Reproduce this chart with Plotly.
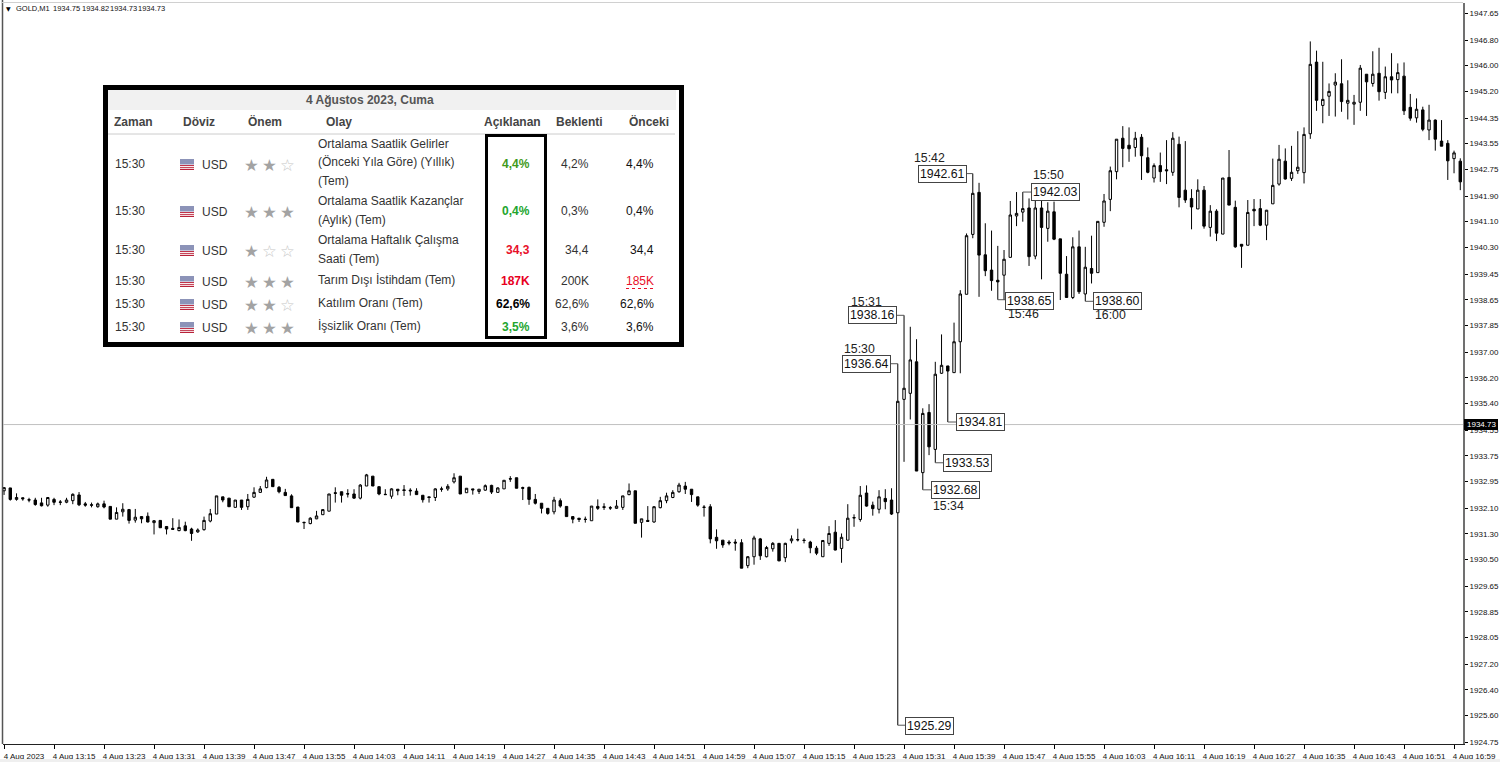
import pandas as pd
import plotly.graph_objects as go

W, H = 1500, 762
ML, MR, MT, MB = 3, 37, 3, 18

first_time = "2023-08-04 13:07"

opens = [
1932.65,1932.74,1932.38,1932.43,1932.37,1932.36,1932.27,1932.20,1932.38,1932.30,
1932.29,1932.34,1932.52,1932.24,1932.21,1932.15,1932.24,1932.16,1931.76,1931.99,
1932.06,1931.73,1931.84,1931.85,1931.65,1931.72,1931.53,1931.47,1931.40,1931.55,
1931.45,1931.36,1931.43,1931.70,1931.92,1932.46,1932.42,1932.13,1932.36,1932.15,
1932.45,1932.60,1932.75,1933.01,1932.76,1932.60,1932.49,1932.14,1931.66,1931.62,
1931.77,1931.90,1932.01,1932.59,1932.62,1932.56,1932.55,1932.42,1932.80,1933.11,
1932.78,1932.54,1932.48,1932.70,1932.68,1932.67,1932.64,1932.51,1932.46,1932.44,
1932.71,1932.71,1932.93,1933.11,1932.59,1932.71,1932.63,1932.67,1932.82,1932.60,
1932.71,1933.03,1933.06,1932.75,1932.76,1932.38,1932.26,1932.10,1931.99,1932.34,
1932.16,1931.84,1931.79,1931.76,1931.71,1932.16,1932.15,1932.12,1932.10,1932.13,
1932.53,1932.65,1931.66,1931.72,1931.67,1932.12,1932.34,1932.44,1932.62,1932.80,
1932.70,1932.46,1932.14,1932.15,1931.19,1931.10,1931.04,1931.04,1931.02,1930.30,
1930.58,1931.14,1930.58,1930.83,1931.00,1930.55,1931.08,1931.12,1931.10,1931.04,
1930.85,1930.58,1931.00,1931.35,1930.84,1931.10,1931.81,1931.75,1932.58,1932.20,
1932.07,1932.41,1932.36,1931.96,1935.52,1935.71,1936.70,1933.22,1935.11,1933.95,
1936.34,1936.57,1936.36,1937.33,1938.82,1940.70,1942.02,1940.06,1939.58,1939.26,
1939.42,1939.98,1941.28,1941.40,1941.53,1940.02,1941.53,1940.89,1941.41,1940.56,
1939.45,1938.72,1940.31,1938.83,1939.63,1939.50,1941.08,1941.80,1942.67,1943.72,
1943.50,1943.43,1943.75,1943.11,1942.47,1942.86,1942.73,1942.65,1943.53,1942.09,
1941.83,1941.50,1942.09,1940.92,1941.43,1940.71,1942.49,1941.55,1940.39,1940.36,
1941.49,1941.51,1940.99,1941.66,1942.28,1943.00,1942.46,1942.70,1942.64,1943.86,
1946.11,1944.75,1945.04,1945.39,1945.43,1944.82,1944.79,1944.85,1945.73,1945.44,
1945.76,1945.16,1945.65,1945.56,1945.67,1944.69,1944.36,1944.61,1943.98,1944.29,
1943.63,1943.56,1943.08,1943.00]

highs = [
1932.75,1932.74,1932.57,1932.44,1932.43,1932.43,1932.43,1932.44,1932.43,1932.36,
1932.43,1932.57,1932.61,1932.30,1932.28,1932.28,1932.34,1932.16,1932.13,1932.26,
1932.08,1932.08,1931.84,1931.97,1931.73,1931.72,1931.53,1931.79,1931.75,1931.68,
1931.49,1931.47,1931.84,1932.08,1932.49,1932.46,1932.42,1932.36,1932.36,1932.55,
1932.76,1932.80,1933.09,1933.01,1932.80,1932.71,1932.54,1932.14,1931.68,1931.82,
1932.02,1932.06,1932.55,1932.76,1932.62,1932.70,1932.70,1932.86,1933.18,1933.11,
1932.78,1932.70,1932.73,1932.70,1932.83,1932.73,1932.73,1932.51,1932.46,1932.73,
1932.78,1932.86,1933.20,1933.11,1932.73,1932.71,1932.70,1932.85,1932.84,1932.76,
1932.98,1933.11,1933.06,1932.78,1932.78,1932.55,1932.26,1932.10,1932.46,1932.41,
1932.16,1931.84,1931.79,1931.84,1932.17,1932.38,1932.26,1932.17,1932.36,1932.49,
1932.88,1932.65,1931.77,1932.17,1932.17,1932.46,1932.59,1932.67,1932.90,1932.93,
1932.70,1932.46,1932.20,1932.23,1931.44,1931.10,1931.10,1931.13,1931.13,1930.60,
1931.24,1931.17,1930.92,1931.04,1931.00,1931.02,1931.25,1931.46,1931.16,1931.08,
1930.92,1931.09,1931.54,1931.73,1931.31,1932.23,1931.91,1932.80,1932.82,1932.31,
1932.67,1932.70,1932.73,1936.64,1938.16,1937.80,1937.41,1935.24,1935.37,1936.70,
1937.56,1936.57,1937.93,1938.95,1940.73,1942.61,1942.32,1941.05,1940.82,1940.34,
1940.21,1941.75,1942.03,1942.03,1941.83,1941.83,1941.83,1941.71,1941.73,1940.56,
1940.02,1940.61,1940.82,1940.31,1940.66,1941.11,1941.97,1942.83,1943.69,1944.10,
1944.06,1943.92,1943.85,1943.43,1942.93,1943.27,1943.66,1943.91,1943.77,1943.63,
1942.12,1942.43,1942.22,1941.62,1941.49,1942.47,1943.35,1941.76,1940.39,1941.78,
1941.81,1941.81,1941.47,1943.08,1943.51,1943.40,1943.48,1943.94,1944.06,1946.76,
1946.47,1946.12,1945.44,1945.76,1946.20,1945.54,1945.08,1946.02,1945.73,1946.45,
1946.56,1945.97,1946.39,1946.07,1946.10,1945.11,1944.97,1944.71,1944.77,1944.31,
1944.29,1943.66,1943.33,1943.09]

lows = [
1932.52,1932.34,1932.34,1932.34,1932.29,1932.18,1932.16,1932.15,1932.20,1932.20,
1932.26,1932.23,1932.17,1932.15,1932.13,1932.12,1932.10,1931.76,1931.76,1931.84,
1931.62,1931.65,1931.63,1931.66,1931.28,1931.49,1931.28,1931.42,1931.38,1931.38,
1931.08,1931.33,1931.40,1931.66,1931.92,1932.29,1932.15,1932.13,1932.05,1932.05,
1932.43,1932.59,1932.73,1932.78,1932.57,1932.49,1932.12,1931.67,1931.45,1931.60,
1931.76,1931.90,1932.01,1932.28,1932.28,1932.44,1932.40,1932.38,1932.80,1932.80,
1932.51,1932.52,1932.40,1932.51,1932.49,1932.50,1932.52,1932.28,1932.28,1932.33,
1932.62,1932.65,1932.88,1932.55,1932.59,1932.53,1932.55,1932.65,1932.55,1932.59,
1932.71,1932.93,1932.73,1932.36,1932.21,1932.22,1931.94,1931.90,1931.91,1932.12,
1931.84,1931.63,1931.67,1931.65,1931.71,1932.05,1932.05,1932.05,1932.09,1932.05,
1932.51,1931.63,1931.18,1931.68,1931.65,1932.10,1932.26,1932.42,1932.59,1932.55,
1932.30,1932.15,1931.84,1931.00,1930.83,1930.86,1930.94,1930.77,1930.22,1930.22,
1930.33,1930.48,1930.56,1930.74,1930.44,1930.41,1931.00,1931.06,1931.00,1930.69,
1930.63,1930.58,1930.92,1930.78,1930.39,1931.08,1931.52,1931.68,1932.15,1931.87,
1931.94,1932.07,1931.89,1925.29,1933.56,1934.89,1933.27,1932.68,1933.77,1933.53,
1936.32,1934.81,1936.36,1936.34,1938.82,1940.58,1938.74,1939.39,1938.93,1938.65,
1938.64,1939.98,1940.96,1941.10,1939.71,1939.92,1939.29,1940.47,1940.52,1938.64,
1938.71,1938.67,1938.83,1938.60,1939.16,1939.50,1940.94,1941.43,1942.43,1942.81,
1942.98,1943.14,1942.41,1942.62,1942.33,1942.35,1942.28,1942.54,1941.55,1941.69,
1940.86,1941.50,1940.88,1940.63,1940.49,1940.71,1941.62,1940.28,1939.65,1940.36,
1940.96,1940.96,1940.52,1941.66,1942.23,1942.42,1942.38,1942.60,1942.30,1943.70,
1944.58,1944.19,1944.42,1944.40,1944.55,1944.31,1944.14,1944.58,1944.42,1945.34,
1944.90,1944.95,1945.13,1945.13,1944.45,1944.27,1944.21,1943.94,1943.66,1943.33,
1943.47,1942.41,1942.62,1942.09]

closes = [
1932.75,1932.38,1932.44,1932.40,1932.36,1932.22,1932.18,1932.44,1932.29,1932.29,
1932.36,1932.54,1932.21,1932.20,1932.20,1932.24,1932.14,1931.76,1931.97,1932.07,
1931.72,1931.82,1931.77,1931.67,1931.71,1931.49,1931.45,1931.44,1931.50,1931.40,
1931.31,1931.42,1931.72,1931.93,1932.49,1932.36,1932.15,1932.36,1932.13,1932.38,
1932.60,1932.71,1932.99,1932.78,1932.62,1932.50,1932.12,1931.67,1931.65,1931.79,
1931.86,1932.06,1932.55,1932.57,1932.51,1932.55,1932.42,1932.83,1933.15,1932.80,
1932.55,1932.53,1932.71,1932.65,1932.66,1932.65,1932.53,1932.37,1932.44,1932.71,
1932.70,1932.79,1933.06,1932.55,1932.73,1932.68,1932.70,1932.81,1932.61,1932.74,
1932.98,1933.02,1932.73,1932.73,1932.38,1932.26,1932.10,1931.94,1932.36,1932.17,
1931.84,1931.76,1931.75,1931.75,1932.17,1932.10,1932.13,1932.11,1932.17,1932.49,
1932.65,1931.63,1931.77,1931.69,1932.15,1932.34,1932.49,1932.60,1932.83,1932.70,
1932.53,1932.20,1932.13,1931.14,1931.08,1930.95,1931.01,1931.01,1930.22,1930.58,
1931.17,1930.61,1930.87,1931.00,1930.45,1931.00,1931.14,1931.11,1931.09,1930.86,
1930.69,1931.09,1931.31,1930.79,1931.19,1931.79,1931.80,1932.51,1932.17,1932.09,
1932.46,1932.31,1931.92,1935.46,1935.87,1936.76,1933.27,1935.08,1934.03,1936.31,
1936.59,1936.41,1937.33,1938.83,1940.66,1941.99,1940.05,1939.56,1939.25,1939.21,
1939.92,1941.31,1941.36,1941.51,1940.00,1941.53,1940.92,1941.43,1940.55,1939.48,
1938.72,1940.31,1938.90,1939.67,1939.48,1941.11,1941.75,1942.70,1943.69,1943.40,
1943.39,1943.72,1943.17,1942.65,1942.86,1942.67,1942.70,1943.72,1941.86,1941.78,
1941.56,1942.09,1940.96,1941.43,1940.74,1942.47,1941.62,1940.31,1940.33,1941.39,
1941.44,1940.99,1941.46,1942.24,1943.06,1942.44,1942.65,1942.81,1943.84,1946.04,
1944.91,1944.94,1945.19,1945.48,1944.87,1944.91,1944.85,1945.92,1945.49,1945.73,
1945.18,1945.65,1945.55,1945.78,1944.58,1944.35,1944.63,1944.00,1944.29,1943.69,
1943.47,1943.01,1943.26,1942.35]

assert len(opens) == len(highs) == len(lows) == len(closes) == 234

y_ticks = ["1947.65","1946.80","1946.00","1945.20","1944.35","1943.55","1942.75","1941.90",
           "1941.10","1940.30","1939.45","1938.65","1937.85","1937.00","1936.20","1935.40",
           "1934.55","1933.75","1932.95","1932.10","1931.30","1930.50","1929.65","1928.85",
           "1928.05","1927.20","1926.40","1925.60","1924.75"]

current_price = 1934.73
ohlc_values = ["1934.75", "1934.82", "1934.73", "1934.73"]
ohlc_x = [52, 81, 109, 137]

# callouts: candle time, price, then label box centre and caption (page pixels)
callout_time = ["15:30", "15:31", "15:42", "15:50", "15:46", "16:00", "15:34", "15:36", "15:38", "15:30"]
callout_price = [1936.64, 1938.16, 1942.61, 1942.03, 1938.65, 1938.60, 1932.68, 1933.53, 1934.81, 1925.29]
callout_box = [(866.5, 364), (872.5, 315), (942, 173.5), (1055.5, 192), (1029.5, 300.5), (1117.5, 301), (955, 490), (967.5, 463), (980, 422.5), (929.5, 726)]
callout_caption = ["15:30", "15:31", "15:42", "15:50", "15:46", "16:00", "15:34", None, None, None]
caption_pos = [(860, 349), (866, 302), (929, 158), (1048, 175), (1023, 314), (1110, 315), (948, 506), None, None, None]

# economic calendar
cal_title = "4 Ağustos 2023, Cuma"
cal_headers = ["Zaman", "Döviz", "Önem", "Olay", "Açıklanan", "Beklenti", "Önceki"]
cal_header_x = [133.5, 198.5, 265, 338.5, 512.5, 579, 649]
cal_row_y = [164, 211, 250, 281, 304, 327]
cal_stars = [2, 3, 1, 3, 2, 3]
cal_events = [
    ["Ortalama Saatlik Gelirler", "(Önceki Yıla Göre) (Yıllık)", "(Tem)"],
    ["Ortalama Saatlik Kazançlar", "(Aylık) (Tem)"],
    ["Ortalama Haftalık Çalışma", "Saati (Tem)"],
    ["Tarım Dışı İstihdam (Tem)"],
    ["Katılım Oranı (Tem)"],
    ["İşsizlik Oranı (Tem)"],
]
cal_event_y = [[144, 162.5, 181], [200.5, 219.5], [239.5, 258.5], [280], [303], [326]]
cal_actual = ["4,4%", "0,4%", "34,3", "187K", "62,6%", "3,5%"]
cal_actual_color = ["#3f9a1c", "#22a52e", "#e8102a", "#e8001e", "#000000", "#22a52e"]
cal_forecast = ["4,2%", "0,3%", "34,4", "200K", "62,6%", "3,6%"]
cal_previous = ["4,4%", "0,4%", "34,4", "185K", "62,6%", "3,6%"]
cal_prev_color = ["#111111", "#111111", "#111111", "#e8102a", "#111111", "#111111"]


def px(x):
    return (x - ML) / (W - ML - MR)


def py(y):
    return 1 - (y - MT) / (H - MT - MB)


times = pd.date_range(first_time, periods=len(opens), freq="min")
tick_times = pd.date_range(first_time, times[-1], freq="8min")
tick_text = ["4 Aug 2023"] + [t.strftime("4 Aug %H:%M") for t in tick_times[1:]]

fig = go.Figure(go.Candlestick(
    x=times, open=opens, high=highs, low=lows, close=closes,
    increasing=dict(line=dict(color="#000000", width=1), fillcolor="#ffffff"),
    decreasing=dict(line=dict(color="#000000", width=1), fillcolor="#000000"),
    whiskerwidth=0, hoverinfo="skip",
))

shapes = []
ann = []


def text(s, x, y, size=12, color="#333333", anchor="left", bold=False, family="Liberation Sans"):
    ann.append(dict(
        text=f"<b>{s}</b>" if bold else s, x=px(x), y=py(y), xref="paper", yref="paper",
        xanchor=anchor, yanchor="middle", showarrow=False, borderpad=0,
        font=dict(family=family, size=size, color=color)))


def rect(x0, y0, x1, y1, fill="rgba(0,0,0,0)", line=None, width=0):
    shapes.append(dict(type="rect", xref="paper", yref="paper",
                       x0=px(x0), x1=px(x1), y0=py(y0), y1=py(y1), fillcolor=fill,
                       line=dict(color=line or "rgba(0,0,0,0)", width=width)))


def hline(x0, y0, x1, y1, color, width=1, dash="solid"):
    shapes.append(dict(type="line", xref="paper", yref="paper",
                       x0=px(x0), x1=px(x1), y0=py(y0), y1=py(y1),
                       line=dict(color=color, width=width, dash=dash)))


# chart frame
hline(2.5, 0, 2.5, 744, "#555555", 1.5)
hline(2, 2.5, 1463, 2.5, "#d0d0d0", 1)
rect(0, 759, 1500, 762, fill="#efefef")

# current price line
shapes.append(dict(type="line", xref="paper", yref="y", x0=0, x1=1,
                   y0=current_price, y1=current_price, line=dict(color="#c0c0c0", width=1)))
rect(1464, 419, 1498, 430, fill="#000000")
text(f"{current_price:.2f}", 1481, 424.5, size=8, color="#ffffff", anchor="center")

# top-left caption
text("▼", 5, 8.5, size=6, color="#000000", family="DejaVu Sans")
text("GOLD,M1", 14.5, 9, size=7.5, color="#111111")
for val, vx in zip(ohlc_values, ohlc_x):
    text(val, vx, 9, size=7.5, color="#111111")

# callouts: a horizontal connector from the candle's wick tip to the label box
for t, p, box, cap, cpos in zip(callout_time, callout_price, callout_box, callout_caption, caption_pos):
    idx = times.get_loc(pd.Timestamp(f"2023-08-04 {t}"))
    candle_x = 4 + 6.25 * idx
    half = 25 if box[0] == 942 else 24
    edge = box[0] - half if box[0] > candle_x else box[0] + half
    shapes.append(dict(type="line", xref="x", yref="y", xsizemode="pixel", xanchor=times[idx],
                       x0=0, x1=edge - candle_x, y0=p, y1=p, line=dict(color="#555555", width=1)))
    ann.append(dict(text=f"{p:.2f}", x=px(box[0]), y=py(box[1]), xref="paper", yref="paper",
                    xanchor="center", yanchor="middle", showarrow=False,
                    bgcolor="#ffffff", bordercolor="#444444", borderwidth=1, borderpad=1,
                    font=dict(family="Liberation Sans", size=12.3, color="#111111")))
    if cap:
        text(cap, cpos[0], cpos[1], size=12.3, color="#222222", anchor="center")

# calendar panel
rect(105.5, 87.5, 681.5, 344.5, fill="#ffffff", line="#000000", width=5)
rect(108, 90, 676, 110, fill="#f1f1f1")
hline(108, 134, 675, 134, "#cccccc", 1)
text(cal_title, 370, 100, size=12, color="#555555", anchor="center", bold=True)
for h, hx in zip(cal_headers, cal_header_x):
    text(h, hx, 121.5, size=12, color="#444444", anchor="center", bold=True)
rect(486.5, 135.5, 545.5, 337.5, line="#000000", width=3)

for i, ry in enumerate(cal_row_y):
    text("15:30", 114, ry, size=12)
    # flag
    fx, fy = 180, ry - 5
    rect(fx, fy, fx + 14, fy + 11, fill="#ffffff")
    for s in range(3):
        rect(fx, fy + 6 + s * 1.9, fx + 14, fy + 7 + s * 1.9, fill="#c0344a")
    rect(fx, fy, fx + 14, fy + 5.5, fill="#8c93b8")
    rect(fx, fy + 10, fx + 14, fy + 11, fill="#b8233a")
    text("USD", 201, ry + 1, size=12)
    for s in range(3):
        on = s < cal_stars[i]
        text("★" if on else "☆", 251 + s * 18, ry + 1, size=16.5,
             color="#a3a3a3" if on else "#c9c9c9", anchor="center", family="DejaVu Sans")
    for line, ly in zip(cal_events[i], cal_event_y[i]):
        text(line, 317, ly, size=12)
    text(cal_actual[i], 530.5, ry, size=12, color=cal_actual_color[i], anchor="right", bold=True)
    text(cal_forecast[i], 589.5, ry, size=12, anchor="right")
    text(cal_previous[i], 655, ry, size=12, color=cal_prev_color[i], anchor="right")
hline(626, 288.5, 654, 288.5, "#e8102a", 1, "dot")

fig.update_layout(
    width=W, height=H, margin=dict(l=ML, r=MR, t=MT, b=MB, autoexpand=False),
    paper_bgcolor="#ffffff", plot_bgcolor="#ffffff", showlegend=False,
    boxgap=0.45, shapes=shapes, annotations=ann,
    font=dict(family="Liberation Sans", size=8, color="#111111"),
    xaxis=dict(
        type="date", range=["2023-08-04 13:06:50", "2023-08-04 17:00:26"],
        rangeslider=dict(visible=False), showgrid=False, zeroline=False,
        tickmode="array", tickvals=list(tick_times), ticktext=tick_text,
        ticks="outside", ticklen=4, tickcolor="#000000", tickwidth=1, tickangle=0,
        showline=True, linecolor="#222222", linewidth=1,
        ticklabelshift=20, tickfont=dict(family="Liberation Sans", size=8, color="#111111"),
    ),
    yaxis=dict(
        side="right", range=[1924.70, 1947.966], showgrid=False, zeroline=False,
        tickmode="array", tickvals=[float(v) for v in y_ticks], ticktext=y_ticks,
        ticks="outside", ticklen=3, tickcolor="#000000", tickwidth=1,
        showline=True, linecolor="#707070", linewidth=2,
        tickfont=dict(family="Liberation Sans", size=8, color="#111111"),
    ),
)

fig.write_html("out.html", config={"displayModeBar": False},
               post_script="document.body.style.margin='0';document.body.style.overflow='hidden';")
